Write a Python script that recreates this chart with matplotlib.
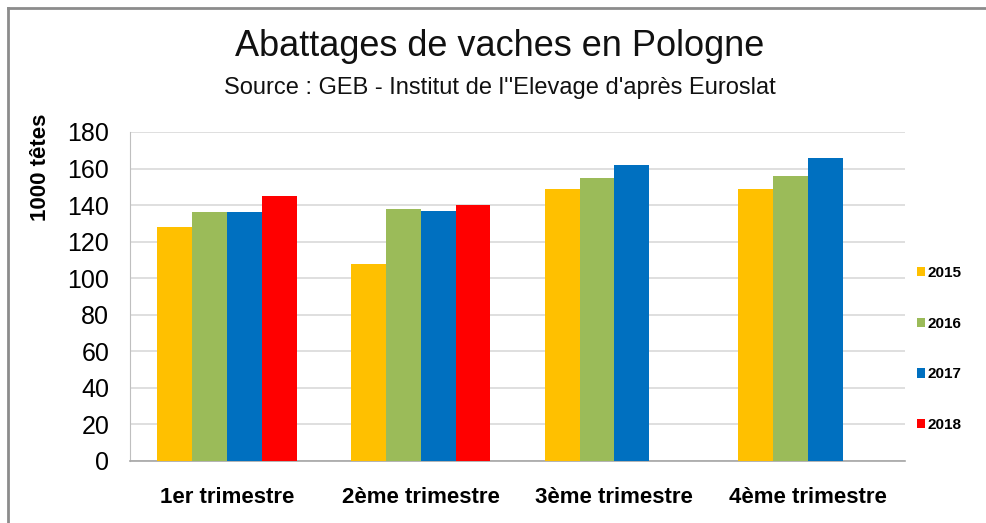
import matplotlib
matplotlib.use("Agg")
import matplotlib.pyplot as plt
import numpy as np
from matplotlib.patches import Patch
from matplotlib.lines import Line2D

categories = ["1er trimestre", "2ème trimestre", "3ème trimestre", "4ème trimestre"]
years = ["2015", "2016", "2017", "2018"]
v2015 = [128, 108, 149, 149]
v2016 = [136, 138, 155, 156]
v2017 = [136, 137, 162, 166]
v2018 = [145, 140, np.nan, np.nan]
series = [v2015, v2016, v2017, v2018]
colors = ["#FFC000", "#9BBB59", "#0070C0", "#FF0000"]
yticks = [0, 20, 40, 60, 80, 100, 120, 140, 160, 180]

regular = ["Liberation Sans", "DejaVu Sans"]

W, H = 986, 523
fig = plt.figure(figsize=(W / 100, H / 100), dpi=100)
ax = fig.add_axes([130 / W, (H - 461) / H, (905 - 130) / W, (461 - 132) / H])

x = np.arange(len(categories))
bw = 0.18
for i, (vals, c) in enumerate(zip(series, colors)):
    ax.bar(x + (i - 1.5) * bw, vals, width=bw, color=c, label=years[i], zorder=3)

ax.set_xlim(-0.5, len(categories) - 0.5)
ax.set_ylim(0, 180)
ax.set_yticks(yticks)
ax.set_yticklabels([str(t) for t in yticks], family=regular, fontsize=18)
ax.set_xticks(x)
ax.set_xticklabels(categories, family=regular, fontsize=16, fontweight="bold")
ax.tick_params(axis="y", length=0, pad=15)
ax.tick_params(axis="x", length=0, pad=19)
ax.grid(axis="y", color="#D9D9D9", linewidth=1.2, zorder=0)
for s in ["top", "right"]:
    ax.spines[s].set_visible(False)
ax.spines["left"].set_color("#BFBFBF")
ax.spines["bottom"].set_color("#A6A6A6")
ax.spines["bottom"].set_linewidth(1.2)

fig.text(500 / W, 1 - 47 / H, "Abattages de vaches en Pologne", family=regular,
         fontsize=26, ha="center", va="center", color="#111111")
fig.text(500 / W, 1 - 88 / H, "Source : GEB - Institut de l''Elevage d'après Euroslat",
         family=regular, fontsize=17, ha="center", va="center", color="#111111")
fig.text(40 / W, 1 - 167 / H, "1000 têtes", family=regular, fontsize=16,
         fontweight="bold", rotation=90, ha="center", va="center")

handles = [Patch(facecolor=c, edgecolor="none") for c in colors]
leg = fig.legend(handles, years, loc="center left", bbox_to_anchor=(903 / W, 1 - 349 / H),
                 frameon=False, handlelength=0.55, handleheight=0.55, handletextpad=0.15,
                 labelspacing=2.4, prop={"family": regular, "size": 11, "weight": "bold"})

# outer frame
fig.add_artist(Line2D([7.5 / W, 7.5 / W], [0, 1 - 8 / H], transform=fig.transFigure,
                      color="#8C8C8C", linewidth=2))
fig.add_artist(Line2D([7.5 / W, 1], [1 - 8 / H, 1 - 8 / H], transform=fig.transFigure,
                      color="#8C8C8C", linewidth=2))

fig.savefig("out.png", dpi=100)
